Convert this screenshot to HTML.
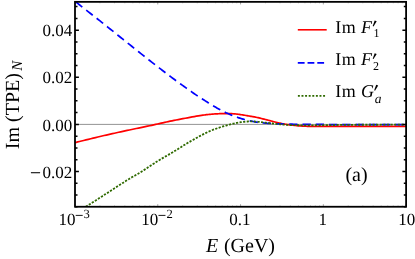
<!DOCTYPE html>
<html><head><meta charset="utf-8"><title>plot</title>
<style>html,body{margin:0;padding:0;background:#fff;}body{width:415px;height:259px;overflow:hidden;font-family:"Liberation Serif",serif;}</style></head>
<body>
<svg width="415" height="259" viewBox="0 0 415 259" style="display:block;will-change:transform;text-rendering:geometricPrecision">
<rect width="415" height="259" fill="#fff"/>
<line x1="75.00" y1="124.40" x2="406.10" y2="124.40" stroke="#666" stroke-width="0.7"/>
<clipPath id="c"><rect x="75.00" y="1.85" width="331.10" height="204.90"/></clipPath>
<g clip-path="url(#c)" fill="none" stroke-linejoin="round">
<path d="M75.00 142.60 L76.21 142.30 L77.72 141.93 L79.49 141.49 L81.48 141.00 L83.64 140.47 L85.94 139.90 L88.32 139.32 L90.74 138.72 L93.16 138.13 L95.54 137.56 L97.84 137.01 L100.00 136.50 L102.08 136.02 L104.15 135.54 L106.21 135.06 L108.27 134.60 L110.33 134.13 L112.39 133.67 L114.46 133.21 L116.54 132.75 L118.63 132.29 L120.73 131.83 L122.86 131.37 L125.00 130.90 L127.18 130.43 L129.40 129.96 L131.66 129.48 L133.94 129.01 L136.23 128.53 L138.52 128.06 L140.80 127.58 L143.06 127.11 L145.29 126.65 L147.48 126.19 L149.62 125.74 L151.70 125.30 L153.70 124.87 L155.63 124.44 L157.50 124.02 L159.32 123.61 L161.12 123.20 L162.89 122.80 L164.67 122.40 L166.46 122.00 L168.27 121.60 L170.12 121.20 L172.03 120.80 L174.00 120.40 L176.08 119.99 L178.27 119.56 L180.54 119.12 L182.87 118.67 L185.23 118.23 L187.58 117.79 L189.90 117.36 L192.16 116.95 L194.33 116.57 L196.38 116.21 L198.28 115.88 L200.00 115.60 L201.54 115.36 L202.94 115.15 L204.21 114.97 L205.37 114.82 L206.44 114.69 L207.44 114.58 L208.38 114.49 L209.30 114.40 L210.20 114.33 L211.10 114.25 L212.03 114.18 L213.00 114.10 L213.98 114.02 L214.94 113.95 L215.87 113.88 L216.78 113.83 L217.67 113.78 L218.56 113.73 L219.45 113.69 L220.33 113.66 L221.23 113.64 L222.13 113.62 L223.05 113.61 L224.00 113.60 L224.96 113.60 L225.93 113.60 L226.91 113.60 L227.89 113.61 L228.88 113.62 L229.88 113.64 L230.88 113.67 L231.89 113.71 L232.91 113.77 L233.93 113.83 L234.96 113.91 L236.00 114.00 L237.06 114.11 L238.14 114.24 L239.25 114.39 L240.37 114.55 L241.50 114.72 L242.62 114.91 L243.75 115.09 L244.85 115.28 L245.94 115.47 L247.00 115.65 L248.02 115.83 L249.00 116.00 L249.92 116.15 L250.77 116.30 L251.57 116.43 L252.33 116.56 L253.08 116.69 L253.81 116.82 L254.56 116.96 L255.33 117.11 L256.15 117.27 L257.02 117.46 L257.97 117.66 L259.00 117.90 L260.14 118.17 L261.37 118.48 L262.68 118.81 L264.06 119.17 L265.47 119.54 L266.91 119.92 L268.35 120.30 L269.78 120.68 L271.18 121.04 L272.52 121.39 L273.81 121.71 L275.00 122.00 L276.11 122.26 L277.15 122.51 L278.14 122.74 L279.09 122.96 L280.01 123.17 L280.91 123.36 L281.79 123.55 L282.69 123.73 L283.59 123.90 L284.52 124.07 L285.49 124.24 L286.50 124.40 L287.55 124.56 L288.62 124.71 L289.70 124.86 L290.80 125.00 L291.91 125.14 L293.03 125.27 L294.17 125.39 L295.31 125.51 L296.47 125.62 L297.64 125.72 L298.82 125.81 L300.00 125.90 L301.13 125.98 L302.18 126.05 L303.18 126.11 L304.15 126.16 L305.13 126.20 L306.16 126.24 L307.26 126.28 L308.46 126.31 L309.81 126.33 L311.33 126.36 L313.04 126.38 L315.00 126.40 L317.15 126.42 L319.43 126.43 L321.85 126.44 L324.40 126.44 L327.10 126.44 L329.93 126.43 L332.91 126.43 L336.03 126.42 L339.30 126.41 L342.71 126.41 L346.28 126.40 L350.00 126.40 L354.11 126.40 L358.78 126.40 L363.86 126.40 L369.21 126.40 L374.72 126.40 L380.24 126.40 L385.63 126.40 L390.77 126.40 L395.53 126.40 L399.75 126.40 L403.32 126.40 L406.10 126.40" stroke="#ff0000" stroke-width="1.7"/>
<path d="M75.00 1.30 L76.19 2.23 L77.68 3.40 L79.42 4.77 L81.38 6.30 L83.51 7.97 L85.77 9.74 L88.12 11.58 L90.51 13.46 L92.90 15.34 L95.26 17.20 L97.54 18.99 L99.70 20.70 L101.78 22.35 L103.87 24.01 L105.95 25.67 L108.04 27.34 L110.13 29.01 L112.23 30.69 L114.33 32.37 L116.44 34.06 L118.56 35.76 L120.70 37.47 L122.84 39.18 L125.00 40.90 L127.19 42.65 L129.43 44.43 L131.71 46.25 L134.01 48.08 L136.31 49.92 L138.62 51.76 L140.91 53.58 L143.17 55.37 L145.39 57.14 L147.56 58.85 L149.67 60.51 L151.70 62.10 L153.65 63.62 L155.52 65.09 L157.34 66.50 L159.10 67.87 L160.82 69.20 L162.52 70.51 L164.20 71.79 L165.87 73.07 L167.54 74.34 L169.23 75.61 L170.95 76.90 L172.70 78.20 L174.51 79.54 L176.39 80.91 L178.31 82.31 L180.25 83.72 L182.19 85.12 L184.12 86.51 L186.02 87.86 L187.86 89.17 L189.63 90.42 L191.31 91.60 L192.87 92.70 L194.30 93.70 L195.59 94.59 L196.74 95.38 L197.78 96.09 L198.73 96.72 L199.61 97.30 L200.43 97.83 L201.22 98.33 L201.99 98.82 L202.76 99.31 L203.56 99.81 L204.40 100.33 L205.30 100.90 L206.24 101.49 L207.19 102.09 L208.14 102.69 L209.09 103.29 L210.05 103.89 L211.01 104.48 L211.98 105.07 L212.94 105.66 L213.91 106.23 L214.87 106.80 L215.84 107.36 L216.80 107.90 L217.76 108.43 L218.72 108.96 L219.67 109.48 L220.62 109.99 L221.58 110.50 L222.53 110.99 L223.49 111.48 L224.46 111.96 L225.43 112.44 L226.41 112.90 L227.40 113.35 L228.40 113.80 L229.41 114.24 L230.44 114.67 L231.47 115.09 L232.51 115.51 L233.55 115.92 L234.61 116.32 L235.66 116.71 L236.73 117.09 L237.79 117.46 L238.86 117.82 L239.93 118.16 L241.00 118.50 L242.08 118.82 L243.18 119.14 L244.29 119.45 L245.41 119.74 L246.53 120.03 L247.66 120.31 L248.77 120.57 L249.88 120.82 L250.97 121.06 L252.04 121.29 L253.08 121.50 L254.10 121.70 L255.08 121.88 L256.02 122.05 L256.93 122.19 L257.82 122.33 L258.69 122.45 L259.56 122.56 L260.42 122.66 L261.29 122.75 L262.18 122.84 L263.09 122.93 L264.03 123.01 L265.00 123.10 L266.00 123.18 L267.00 123.26 L268.01 123.33 L269.03 123.39 L270.07 123.45 L271.12 123.51 L272.19 123.56 L273.29 123.61 L274.42 123.66 L275.58 123.71 L276.77 123.75 L278.00 123.80 L279.27 123.85 L280.57 123.89 L281.90 123.94 L283.26 123.98 L284.65 124.03 L286.06 124.07 L287.50 124.10 L288.96 124.14 L290.45 124.17 L291.95 124.20 L293.47 124.23 L295.00 124.25 L296.56 124.27 L298.16 124.28 L299.79 124.28 L301.44 124.29 L303.12 124.29 L304.81 124.28 L306.51 124.28 L308.22 124.28 L309.93 124.28 L311.63 124.28 L313.32 124.29 L315.00 124.30 L316.65 124.32 L318.28 124.34 L319.88 124.36 L321.48 124.39 L323.08 124.42 L324.69 124.45 L326.31 124.48 L327.96 124.51 L329.65 124.53 L331.38 124.56 L333.16 124.58 L335.00 124.60 L336.84 124.62 L338.63 124.63 L340.40 124.64 L342.18 124.65 L343.99 124.66 L345.87 124.67 L347.83 124.68 L349.92 124.68 L352.15 124.69 L354.55 124.69 L357.16 124.70 L360.00 124.70 L363.25 124.70 L367.00 124.71 L371.12 124.71 L375.51 124.71 L380.05 124.71 L384.61 124.71 L389.09 124.71 L393.37 124.70 L397.32 124.70 L400.84 124.70 L403.81 124.70 L406.10 124.70" stroke="#0000ff" stroke-width="1.7" stroke-dasharray="8.3 4.95" stroke-dashoffset="-1.0"/>
<path d="M85.80 206.75 L86.56 206.27 L87.47 205.69 L88.52 205.02 L89.70 204.27 L90.99 203.45 L92.38 202.56 L93.85 201.62 L95.39 200.64 L96.99 199.61 L98.64 198.56 L100.31 197.49 L102.00 196.40 L103.77 195.25 L105.70 194.00 L107.73 192.68 L109.86 191.29 L112.04 189.86 L114.25 188.42 L116.46 186.98 L118.63 185.57 L120.74 184.21 L122.76 182.91 L124.66 181.70 L126.40 180.60 L128.00 179.61 L129.49 178.71 L130.89 177.88 L132.21 177.10 L133.46 176.38 L134.68 175.69 L135.85 175.02 L137.01 174.35 L138.18 173.68 L139.35 172.99 L140.55 172.27 L141.80 171.50 L143.07 170.70 L144.34 169.88 L145.60 169.05 L146.86 168.21 L148.12 167.36 L149.38 166.51 L150.63 165.66 L151.90 164.81 L153.16 163.97 L154.43 163.14 L155.71 162.31 L157.00 161.50 L158.29 160.70 L159.58 159.92 L160.88 159.16 L162.17 158.40 L163.47 157.64 L164.78 156.89 L166.09 156.13 L167.41 155.37 L168.74 154.60 L170.08 153.82 L171.43 153.02 L172.80 152.20 L174.19 151.36 L175.59 150.49 L177.01 149.61 L178.44 148.71 L179.89 147.80 L181.34 146.89 L182.79 145.98 L184.24 145.07 L185.70 144.17 L187.14 143.29 L188.58 142.43 L190.00 141.60 L191.43 140.77 L192.89 139.94 L194.37 139.11 L195.86 138.28 L197.34 137.46 L198.81 136.66 L200.25 135.88 L201.67 135.12 L203.04 134.40 L204.36 133.72 L205.61 133.09 L206.80 132.50 L207.90 131.97 L208.93 131.50 L209.89 131.07 L210.80 130.68 L211.67 130.32 L212.51 129.99 L213.32 129.68 L214.13 129.39 L214.94 129.10 L215.76 128.81 L216.61 128.51 L217.50 128.20 L218.41 127.88 L219.33 127.57 L220.26 127.26 L221.20 126.96 L222.13 126.66 L223.07 126.37 L224.00 126.09 L224.94 125.82 L225.86 125.55 L226.79 125.29 L227.70 125.04 L228.60 124.80 L229.49 124.57 L230.37 124.34 L231.25 124.12 L232.12 123.91 L232.98 123.70 L233.84 123.51 L234.70 123.32 L235.56 123.14 L236.42 122.96 L237.27 122.80 L238.14 122.65 L239.00 122.50 L239.87 122.36 L240.75 122.23 L241.64 122.11 L242.53 121.99 L243.42 121.88 L244.31 121.78 L245.19 121.69 L246.07 121.61 L246.93 121.54 L247.77 121.48 L248.60 121.44 L249.40 121.40 L250.17 121.38 L250.90 121.37 L251.60 121.37 L252.27 121.39 L252.94 121.41 L253.60 121.44 L254.27 121.49 L254.95 121.54 L255.65 121.59 L256.39 121.66 L257.17 121.73 L258.00 121.80 L258.89 121.88 L259.83 121.98 L260.81 122.09 L261.82 122.20 L262.86 122.33 L263.91 122.46 L264.97 122.59 L266.02 122.72 L267.06 122.85 L268.08 122.97 L269.06 123.09 L270.00 123.20 L270.90 123.30 L271.76 123.40 L272.59 123.50 L273.41 123.60 L274.21 123.69 L275.00 123.79 L275.79 123.88 L276.59 123.97 L277.41 124.05 L278.24 124.14 L279.10 124.22 L280.00 124.30 L280.93 124.38 L281.87 124.46 L282.84 124.54 L283.81 124.61 L284.81 124.68 L285.81 124.76 L286.83 124.82 L287.85 124.89 L288.88 124.95 L289.92 125.00 L290.96 125.06 L292.00 125.10 L293.03 125.14 L294.03 125.17 L295.02 125.20 L296.00 125.22 L296.99 125.24 L298.00 125.26 L299.04 125.27 L300.11 125.28 L301.23 125.29 L302.42 125.29 L303.67 125.30 L305.00 125.30 L306.42 125.30 L307.93 125.30 L309.51 125.30 L311.15 125.30 L312.84 125.29 L314.56 125.28 L316.31 125.27 L318.07 125.26 L319.84 125.25 L321.59 125.23 L323.31 125.22 L325.00 125.20 L326.67 125.18 L328.33 125.15 L330.00 125.12 L331.67 125.09 L333.33 125.06 L335.00 125.03 L336.67 124.99 L338.33 124.96 L340.00 124.93 L341.67 124.90 L343.33 124.87 L345.00 124.85 L346.60 124.83 L348.09 124.82 L349.51 124.81 L350.89 124.80 L352.26 124.79 L353.68 124.78 L355.17 124.78 L356.77 124.77 L358.52 124.77 L360.45 124.76 L362.59 124.76 L365.00 124.75 L367.82 124.74 L371.10 124.74 L374.75 124.73 L378.66 124.73 L382.71 124.72 L386.80 124.72 L390.82 124.71 L394.66 124.71 L398.22 124.71 L401.38 124.70 L404.05 124.70 L406.10 124.70" stroke="#2f6a00" stroke-width="1.8" stroke-dasharray="2.2 1.4"/>
</g>
<path d="M75.00 206.86 h2.50 M406.10 206.86 h-2.30 M75.00 195.08 h2.50 M406.10 195.08 h-2.30 M75.00 183.30 h2.50 M406.10 183.30 h-2.30 M75.00 171.52 h3.90 M406.10 171.52 h-3.70 M75.00 159.74 h2.50 M406.10 159.74 h-2.30 M75.00 147.96 h2.50 M406.10 147.96 h-2.30 M75.00 136.18 h2.50 M406.10 136.18 h-2.30 M75.00 124.40 h3.90 M406.10 124.40 h-3.70 M75.00 112.62 h2.50 M406.10 112.62 h-2.30 M75.00 100.84 h2.50 M406.10 100.84 h-2.30 M75.00 89.06 h2.50 M406.10 89.06 h-2.30 M75.00 77.28 h3.90 M406.10 77.28 h-3.70 M75.00 65.50 h2.50 M406.10 65.50 h-2.30 M75.00 53.72 h2.50 M406.10 53.72 h-2.30 M75.00 41.94 h2.50 M406.10 41.94 h-2.30 M75.00 30.16 h3.90 M406.10 30.16 h-3.70 M75.00 18.38 h2.50 M406.10 18.38 h-2.30 M75.00 6.60 h2.50 M406.10 6.60 h-2.30" stroke="#000" stroke-width="1.5" fill="none"/>
<path d="M75.00 206.75 v-2.60 M75.00 1.85 v2.60 M157.78 206.75 v-2.60 M157.78 1.85 v2.60 M240.55 206.75 v-2.60 M240.55 1.85 v2.60 M323.33 206.75 v-2.60 M323.33 1.85 v2.60 M406.10 206.75 v-2.60 M406.10 1.85 v2.60" stroke="#000" stroke-width="0.35" fill="none"/>
<path d="M99.92 206.75 v-1.60 M99.92 1.85 v1.60 M114.49 206.75 v-1.60 M114.49 1.85 v1.60 M124.84 206.75 v-1.60 M124.84 1.85 v1.60 M132.86 206.75 v-1.60 M132.86 1.85 v1.60 M139.41 206.75 v-1.60 M139.41 1.85 v1.60 M144.95 206.75 v-1.60 M144.95 1.85 v1.60 M149.75 206.75 v-1.60 M149.75 1.85 v1.60 M153.99 206.75 v-1.60 M153.99 1.85 v1.60 M182.69 206.75 v-1.60 M182.69 1.85 v1.60 M197.27 206.75 v-1.60 M197.27 1.85 v1.60 M207.61 206.75 v-1.60 M207.61 1.85 v1.60 M215.63 206.75 v-1.60 M215.63 1.85 v1.60 M222.19 206.75 v-1.60 M222.19 1.85 v1.60 M227.73 206.75 v-1.60 M227.73 1.85 v1.60 M232.53 206.75 v-1.60 M232.53 1.85 v1.60 M236.76 206.75 v-1.60 M236.76 1.85 v1.60 M265.47 206.75 v-1.60 M265.47 1.85 v1.60 M280.04 206.75 v-1.60 M280.04 1.85 v1.60 M290.39 206.75 v-1.60 M290.39 1.85 v1.60 M298.41 206.75 v-1.60 M298.41 1.85 v1.60 M304.96 206.75 v-1.60 M304.96 1.85 v1.60 M310.50 206.75 v-1.60 M310.50 1.85 v1.60 M315.30 206.75 v-1.60 M315.30 1.85 v1.60 M319.54 206.75 v-1.60 M319.54 1.85 v1.60 M348.24 206.75 v-1.60 M348.24 1.85 v1.60 M362.82 206.75 v-1.60 M362.82 1.85 v1.60 M373.16 206.75 v-1.60 M373.16 1.85 v1.60 M381.18 206.75 v-1.60 M381.18 1.85 v1.60 M387.74 206.75 v-1.60 M387.74 1.85 v1.60 M393.28 206.75 v-1.60 M393.28 1.85 v1.60 M398.08 206.75 v-1.60 M398.08 1.85 v1.60 M402.31 206.75 v-1.60 M402.31 1.85 v1.60" stroke="#000" stroke-width="0.18" fill="none"/>
<rect x="75.00" y="1.85" width="331.10" height="204.90" fill="none" stroke="#000" stroke-width="1.8"/>
<g font-family="'Liberation Serif', serif" font-size="17" fill="#000">
<text x="72.3" y="36.26" text-anchor="end">0.04</text>
<text x="72.3" y="83.38" text-anchor="end">0.02</text>
<text x="72.3" y="130.50" text-anchor="end">0.00</text>
<text x="72.3" y="177.62" text-anchor="end">0.02</text>
<line x1="30.9" x2="40.1" y1="172.72" y2="172.72" stroke="#000" stroke-width="1.05"/>
<text x="239.75" y="224.7" text-anchor="middle" font-size="17">0.1</text>
<text x="322.83" y="224.7" text-anchor="middle" font-size="17">1</text>
<text x="406.70" y="224.7" text-anchor="middle" font-size="17">10</text>
<text x="75.50" y="224.7" text-anchor="end" font-size="17">10</text>
<line x1="75.70" x2="82.70" y1="215.4" y2="215.4" stroke="#000" stroke-width="0.9"/>
<text x="83.60" y="218.4" font-size="12.6">3</text>
<text x="158.28" y="224.7" text-anchor="end" font-size="17">10</text>
<line x1="158.47" x2="165.47" y1="215.4" y2="215.4" stroke="#000" stroke-width="0.9"/>
<text x="166.38" y="218.4" font-size="12.6">2</text>
</g>
<g font-family="'Liberation Serif', serif" font-size="20" fill="#000">
<text x="206" y="252.3"><tspan font-style="italic">E</tspan><tspan dx="0.7"> (GeV)</tspan></text>
<text transform="translate(19.3 149.2) rotate(-90)">Im (TPE)<tspan font-style="italic" font-size="15" dx="2.3" dy="3.1">N</tspan></text>
<text x="345.4" y="181.3">(a)</text>
</g>
<g fill="none">
<line x1="297.8" x2="326.7" y1="29.8" y2="29.8" stroke="#ff0000" stroke-width="1.6"/>
<line x1="297.8" x2="324.2" y1="62.8" y2="62.8" stroke="#0000ff" stroke-width="1.7" stroke-dasharray="6.8 2.95"/>
<line x1="297.9" x2="325.1" y1="95.9" y2="95.9" stroke="#2f6a00" stroke-width="1.8" stroke-dasharray="1.95 1.65"/>
</g>
<g font-family="'Liberation Serif', serif" font-size="18" fill="#000">
<text x="335.20" y="32.70" letter-spacing="0.6">Im</text>
<text x="361.00" y="32.70" font-style="italic">F</text>
<path d="M374.70 20.50 L376.70 21.30 L373.50 26.40 L372.70 26.00 Z" fill="#000"/>
<text x="373.50" y="37.10" font-size="12">1</text>
<text x="335.20" y="65.40" letter-spacing="0.6">Im</text>
<text x="361.00" y="65.40" font-style="italic">F</text>
<path d="M374.70 53.20 L376.70 54.00 L373.50 59.10 L372.70 58.70 Z" fill="#000"/>
<text x="372.90" y="69.80" font-size="12">2</text>
<text x="335.20" y="97.00" letter-spacing="0.6">Im</text>
<text x="361.00" y="97.00" font-style="italic">G</text>
<path d="M376.20 84.80 L378.20 85.60 L375.00 90.70 L374.20 90.30 Z" fill="#000"/>
<text x="374.80" y="102.60" font-size="13.5" font-style="italic">a</text>
</g>
</svg>
</body></html>
